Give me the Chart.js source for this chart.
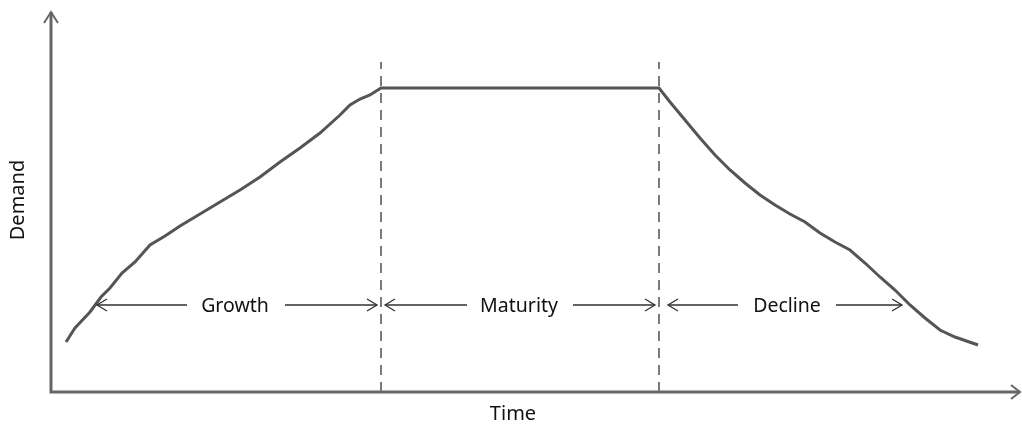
<!DOCTYPE html>
<html>
<head>
<meta charset="utf-8">
<script src="https://cdn.jsdelivr.net/npm/chart.js@4"></script>
<style>
  html, body { margin: 0; padding: 0; background: #fff; }
  #wrap { width: 1022px; height: 426px; }
</style>
</head>
<body>
<div id="wrap"><canvas id="lifecycleChart"></canvas></div>
<script>
"use strict";

// demand curve (x = time, y = demand)
var curveX = [66, 75, 90, 101, 110, 122, 135, 150, 165, 180, 200, 220, 240, 260, 280, 300, 320, 340, 350, 360, 370, 381,
  659, 670, 685, 700, 715, 730, 745, 760, 775, 790, 805, 820, 835, 850, 865, 880, 895, 910, 925, 940, 955, 978];
var curveY = [50, 64, 80, 95, 104, 119, 130, 147, 156, 166, 178, 190, 202, 215, 230, 244, 259, 277, 287, 293, 297, 304,
  304, 290, 272, 254, 237, 222, 209, 197, 187, 178, 170, 159, 150, 142, 129, 115, 102, 87, 74, 62, 55, 47];

var phaseBounds = [381, 659];
var boundTop = 330;

var phaseLabels = ["Growth", "Maturity", "Decline"];
var labelCenters = [235, 519, 787];
var arrowLeft = [[97, 187], [385, 467], [668, 738]];
var arrowRight = [[285, 377], [573, 655], [836, 902]];
var arrowLevel = 87;

var curve = curveX.map(function (x, i) {
  return { x: x, y: curveY[i] };
});

var boundSets = phaseBounds.map(function (x) {
  return {
    data: [{ x: x, y: 0 }, { x: x, y: boundTop }],
    borderColor: "#7a7a7a",
    borderWidth: 2,
    borderDash: [10, 7],
    pointRadius: 0,
  };
});

function head(ctx, x, y, dir, len, half) {
  ctx.beginPath();
  ctx.moveTo(x + dir * len, y - half);
  ctx.lineTo(x, y);
  ctx.lineTo(x + dir * len, y + half);
  ctx.stroke();
}

var decorations = {
  id: "decorations",
  afterDatasetsDraw: function (chart) {
    var ctx = chart.ctx;
    var xs = chart.scales.x;
    var ys = chart.scales.y;
    var area = chart.chartArea;
    ctx.save();

    // axes with arrow heads
    ctx.strokeStyle = "#666";
    ctx.lineWidth = 3;
    ctx.lineCap = "butt";
    ctx.beginPath();
    ctx.moveTo(area.left, area.top + 1);
    ctx.lineTo(area.left, area.bottom);
    ctx.lineTo(area.right, area.bottom);
    ctx.stroke();
    ctx.lineWidth = 2;
    ctx.beginPath();
    ctx.moveTo(area.left - 7, area.top + 12);
    ctx.lineTo(area.left, area.top + 1);
    ctx.lineTo(area.left + 7, area.top + 12);
    ctx.stroke();
    ctx.beginPath();
    ctx.moveTo(area.right - 9, area.bottom - 7);
    ctx.lineTo(area.right, area.bottom);
    ctx.lineTo(area.right - 9, area.bottom + 7);
    ctx.stroke();

    // phase arrows and labels
    var py = ys.getPixelForValue(arrowLevel);
    ctx.strokeStyle = "#333";
    ctx.lineWidth = 1.3;
    for (var i = 0; i < phaseLabels.length; i++) {
      var l0 = xs.getPixelForValue(arrowLeft[i][0]);
      var l1 = xs.getPixelForValue(arrowLeft[i][1]);
      var r0 = xs.getPixelForValue(arrowRight[i][0]);
      var r1 = xs.getPixelForValue(arrowRight[i][1]);
      ctx.beginPath();
      ctx.moveTo(l0, py);
      ctx.lineTo(l1, py);
      ctx.moveTo(r0, py);
      ctx.lineTo(r1, py);
      ctx.stroke();
      head(ctx, l0, py, 1, 10, 6);
      head(ctx, r1, py, -1, 10, 6);
      ctx.fillStyle = "#111";
      ctx.font = "19.5px 'Noto Sans'";
      ctx.textAlign = "center";
      ctx.textBaseline = "middle";
      ctx.fillText(phaseLabels[i], xs.getPixelForValue(labelCenters[i]), py + 1);
    }

    // axis titles
    ctx.font = "20px 'Noto Sans'";
    ctx.fillStyle = "#111";
    ctx.fillText("Time", 513, 414);
    ctx.translate(18, 200);
    ctx.rotate(-Math.PI / 2);
    ctx.fillText("Demand", 0, 0);
    ctx.restore();
  },
};

new Chart(document.getElementById("lifecycleChart"), {
  type: "line",
  data: {
    datasets: [
      {
        data: curve,
        borderColor: "#555",
        borderWidth: 3,
        pointRadius: 0,
        tension: 0,
      },
    ].concat(boundSets),
  },
  options: {
    responsive: true,
    maintainAspectRatio: false,
    animation: false,
    layout: { padding: { left: 51, right: 2, top: 11, bottom: 34 } },
    plugins: {
      legend: { display: false },
      tooltip: { enabled: false },
    },
    scales: {
      x: { type: "linear", min: 51, max: 1020, display: false },
      y: { min: 0, max: 381, display: false },
    },
  },
  plugins: [decorations],
});
</script>
</body>
</html>
